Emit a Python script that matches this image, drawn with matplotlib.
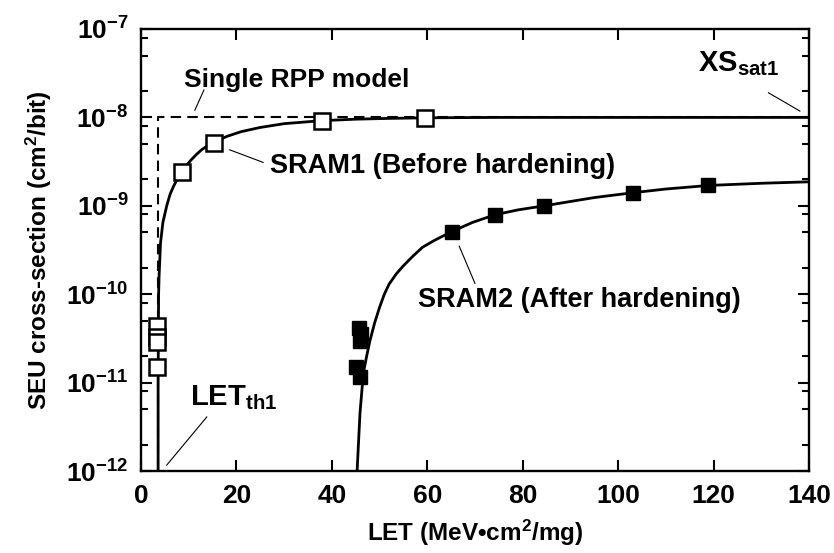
import numpy as np
import matplotlib
matplotlib.use('Agg')
import matplotlib.pyplot as plt

# 字体设置：粗体无衬线
plt.rcParams['font.family'] = ['Liberation Sans', 'DejaVu Sans']
plt.rcParams['font.weight'] = 'bold'
plt.rcParams['mathtext.fontset'] = 'custom'
plt.rcParams['mathtext.rm'] = 'Liberation Sans:bold'
plt.rcParams['mathtext.bf'] = 'Liberation Sans:bold'
plt.rcParams['mathtext.it'] = 'Liberation Sans:bold'
plt.rcParams['mathtext.default'] = 'bf'

# 测量数据 SRAM1（加固前，空心方块）
sram1_let = [3.4, 3.4, 3.4, 3.4, 8.5, 15.4, 37.9, 59.5]
sram1_xs = [4.4e-11, 3.3e-11, 2.9e-11, 1.5e-11, 2.4e-9, 5.2e-9, 9.1e-9, 9.8e-9]

# 测量数据 SRAM2（加固后，实心方块）
sram2_let = [45.8, 46.2, 45.9, 45.0, 46.0, 65.1, 74.1, 84.5, 103.2, 118.9]
sram2_xs = [4.2e-11, 3.6e-11, 3.0e-11, 1.5e-11, 1.15e-11, 5.1e-10, 7.9e-10, 1.0e-9, 1.41e-9, 1.72e-9]

# 拟合曲线（从图上读取的点）
fit1_let = [3.6, 3.6, 3.7, 3.8, 4.1, 4.6, 5.4, 6.1, 6.8, 7.6, 8.5, 9.5, 10.5, 11.6, 12.7, 14.0, 15.5,
            18, 21, 25, 30, 38, 45, 52, 60, 75, 140]
fit1_xs = [1e-12, 1e-11, 1e-10, 1.6e-10, 3.8e-10, 6.5e-10, 1.0e-9, 1.35e-9, 1.65e-9, 2.0e-9, 2.4e-9,
           2.85e-9, 3.3e-9, 3.8e-9, 4.3e-9, 4.8e-9, 5.3e-9, 6.1e-9, 6.9e-9, 7.7e-9, 8.5e-9, 9.2e-9,
           9.55e-9, 9.75e-9, 9.9e-9, 1e-8, 1e-8]
fit2_let = [45.3, 45.9, 46.6, 47.3, 48.0, 49.0, 50.0, 51.0, 52.0, 53.5, 55.0, 57.0, 59.0, 61.5, 65.1,
            69.5, 74.1, 79, 84.5, 90, 95, 103.2, 110, 118.9, 130, 140]
fit2_xs = [1e-12, 4.5e-12, 1.27e-11, 2.0e-11, 3.0e-11, 4.8e-11, 7.1e-11, 1.0e-10, 1.3e-10, 1.7e-10,
           2.1e-10, 2.7e-10, 3.4e-10, 4.07e-10, 5.1e-10, 6.5e-10, 7.9e-10, 9.0e-10, 1.0e-9, 1.12e-9,
           1.24e-9, 1.41e-9, 1.55e-9, 1.7e-9, 1.8e-9, 1.87e-9]

# 单RPP模型（阶跃）
rpp_let = [3.6, 3.6, 140]
rpp_xs = [1e-12, 1e-8, 1e-8]

x_ticks = [0, 20, 40, 60, 80, 100, 120, 140]
y_ticks = [1e-12, 1e-11, 1e-10, 1e-9, 1e-8, 1e-7]
y_labels = ['$10^{-12}$', '$10^{-11}$', '$10^{-10}$', '$10^{-9}$', '$10^{-8}$', '$10^{-7}$']

fig = plt.figure(figsize=(8.34, 5.53), dpi=100)
ax = fig.add_axes([0.169, 0.148, 0.801, 0.7996])

ax.plot(rpp_let, rpp_xs, color='black', lw=1.5, ls=(0, (5, 3)), zorder=2)
ax.plot(fit1_let, fit1_xs, color='black', lw=2.0, zorder=3)
ax.plot(fit2_let, fit2_xs, color='black', lw=2.0, zorder=3)
ax.plot(sram1_let, sram1_xs, ls='none', marker='s', ms=11, mfc='white', mec='black', mew=1.8, zorder=4)
ax.plot(sram2_let, sram2_xs, ls='none', marker='s', ms=10.5, mfc='black', mec='black', mew=1.0, zorder=4)

ax.set_yscale('log')
ax.set_xlim(0, 140)
ax.set_ylim(1e-12, 1e-7)
ax.set_xticks(x_ticks)
ax.set_xticklabels([str(v) for v in x_ticks])
ax.set_yticks(y_ticks)
ax.set_yticklabels(y_labels)
ax.yaxis.set_minor_locator(matplotlib.ticker.LogLocator(base=10, subs=[2, 5, 8], numticks=20))
ax.yaxis.set_minor_formatter(matplotlib.ticker.NullFormatter())
ax.tick_params(which='both', direction='in', top=True, right=True, width=1.5)
ax.tick_params(which='major', length=8, labelsize=19, pad=9)
ax.tick_params(which='minor', length=5)
for s in ax.spines.values():
    s.set_linewidth(1.7)

ax.set_xlabel('LET (MeV\u2022cm$^{2}$/mg)', fontsize=17.5, fontweight='bold', labelpad=7)
ax.set_ylabel('SEU cross-section (cm$^{2}$/bit)', fontsize=17.5, fontweight='bold', labelpad=9)

# 注释文字和引线
ax.text(9.0, 2.2e-8, 'Single RPP model', fontsize=19, fontweight='bold', ha='left', va='baseline')
ax.plot([13.2, 11.3], [2.04e-8, 1.21e-8], color='black', lw=0.8)
ax.text(27.0, 2.33e-9, 'SRAM1 (Before hardening)', fontsize=19.5, fontweight='bold', ha='left', va='baseline')
ax.plot([18.6, 25.6], [4.3e-9, 3.1e-9], color='black', lw=0.8)
ax.text(116.7, 3.3e-8, 'XS$_{sat1}$', fontsize=21, fontweight='bold', ha='left', va='baseline')
ax.plot([131.5, 138.1], [1.9e-8, 1.18e-8], color='black', lw=0.8)
ax.text(58.1, 7.2e-11, 'SRAM2 (After hardening)', fontsize=19.5, fontweight='bold', ha='left', va='baseline')
ax.plot([66.7, 70.0], [3.5e-10, 1.33e-10], color='black', lw=0.8)
ax.text(10.3, 5.6e-12, 'LET$_{th1}$', fontsize=21, fontweight='bold', ha='left', va='baseline')
ax.plot([13.8, 5.4], [4.1e-12, 1.17e-12], color='black', lw=0.8)

fig.savefig('out.png', dpi=100)
